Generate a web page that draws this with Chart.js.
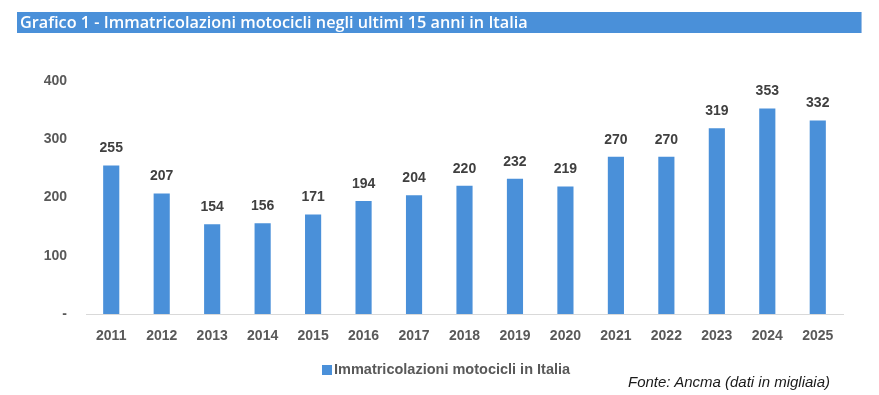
<!DOCTYPE html>
<html>
<head>
<meta charset="utf-8">
<script src="https://cdn.jsdelivr.net/npm/chart.js@4/dist/chart.umd.min.js"></script>
<style>
  html, body { margin: 0; padding: 0; background: #fff; }
  #wrap { position: relative; width: 879px; height: 395px; overflow: hidden; }
  #titleBar {
    position: absolute; left: 17px; top: 12px; width: 844px; height: 21px;
    background: #4a90d9; border-right: 1px solid #9dbfe6;
  }
  #titleText {
    position: absolute; left: 3px; top: -2px; white-space: nowrap;
    font: 600 17px "Open Sans", sans-serif; color: #fff;
    transform-origin: left top;
  }
  #source {
    position: absolute; left: 628px; top: 373px; white-space: nowrap;
    font: italic 15px "Liberation Sans", Arial, sans-serif; color: #1a1a1a;
  }
  canvas { position: absolute; left: 0; top: 0; }
</style>
</head>
<body>
<div id="wrap">
  <canvas id="chart" width="879" height="395"></canvas>
  <div id="titleBar"><span id="titleText">Grafico 1 - Immatricolazioni motocicli negli ultimi 15 anni in Italia</span></div>
  <div id="source">Fonte: Ancma (dati in migliaia)</div>
</div>
<script>
// Data (thousands)
var years = ['2011', '2012', '2013', '2014', '2015', '2016', '2017', '2018',
             '2019', '2020', '2021', '2022', '2023', '2024', '2025'];
var registrations = [255, 207, 154, 156, 171, 194, 204, 220, 232, 219, 270, 270, 319, 353, 332];
var yTicks = [0, 100, 200, 300, 400];
var seriesName = 'Immatricolazioni motocicli in Italia';

// fit the title to the width it has in the picture
var t = document.getElementById('titleText');
t.style.transform = 'scaleX(' + (508 / t.offsetWidth) + ')';

var barColor = '#4a90d9';
var tickFont = { family: '"Liberation Sans", Arial, sans-serif', size: 14, weight: 'bold' };

// value labels above the bars
var valueLabels = {
    id: 'valueLabels',
    afterDatasetsDraw: function (chart) {
        var ctx = chart.ctx;
        var meta = chart.getDatasetMeta(0);
        ctx.save();
        ctx.font = 'bold 14px "Liberation Sans", Arial, sans-serif';
        ctx.fillStyle = '#404040';
        ctx.textAlign = 'center';
        ctx.textBaseline = 'middle';
        meta.data.forEach(function (bar, i) {
            ctx.fillText(chart.data.datasets[0].data[i], bar.x, bar.y - 17);
        });
        ctx.restore();
    }
};

// legend drawn under the axis
var bottomLegend = {
    id: 'bottomLegend',
    afterDraw: function (chart) {
        var ctx = chart.ctx;
        var ds = chart.data.datasets[0];
        ctx.save();
        ctx.font = 'bold 14.5px "Liberation Sans", Arial, sans-serif';
        ctx.fillStyle = ds.backgroundColor;
        ctx.fillRect(322, 365, 10, 10);
        ctx.fillStyle = '#595959';
        ctx.textAlign = 'left';
        ctx.textBaseline = 'middle';
        ctx.fillText(ds.label, 334, 370);
        ctx.restore();
    }
};

new Chart(document.getElementById('chart'), {
    type: 'bar',
    data: {
        labels: years,
        datasets: [{
            label: seriesName,
            data: registrations,
            backgroundColor: barColor,
            categoryPercentage: 1,
            barPercentage: 0.32
        }]
    },
    options: {
        responsive: false,
        animation: false,
        layout: { padding: { top: 81, right: 36, bottom: 41, left: 0 } },
        plugins: {
            legend: { display: false },
            tooltip: { enabled: false }
        },
        scales: {
            x: {
                grid: { display: false, drawTicks: false },
                border: { display: true, color: '#d9d9d9', width: 1 },
                ticks: { font: tickFont, color: '#595959', padding: 14 },
                afterFit: function (scale) { scale.height = 40; }
            },
            y: {
                min: 0,
                max: 400,
                afterBuildTicks: function (scale) {
                    scale.ticks = yTicks.map(function (v) { return { value: v }; });
                },
                grid: { display: false, drawTicks: false },
                border: { display: false },
                ticks: {
                    font: tickFont,
                    color: '#595959',
                    padding: 19,
                    callback: function (v) { return v === 0 ? '-' : v; }
                },
                afterFit: function (scale) { scale.width = 86; }
            }
        }
    },
    plugins: [valueLabels, bottomLegend]
});
</script>
</body>
</html>
